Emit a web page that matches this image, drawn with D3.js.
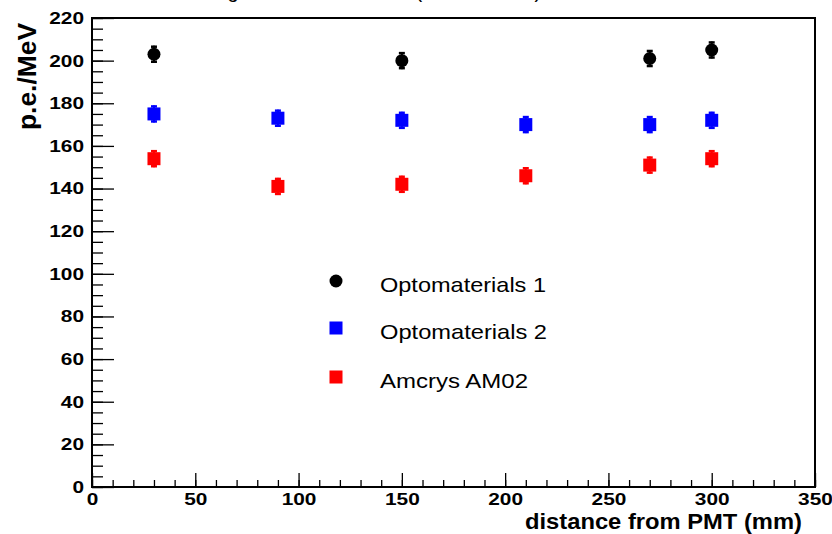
<!DOCTYPE html>
<html lang="en">
<head>
<meta charset="UTF-8">
<script src="https://d3js.org/d3.v7.min.js"></script>
<style>
  body { margin: 0; background: #fff; }
  svg { display: block; font-family: "Liberation Sans", Arial, sans-serif; }
</style>
</head>
<body>
<svg width="832" height="534" id="chart"></svg>
<script>
// data
const xTicks = [0, 50, 100, 150, 200, 250, 300, 350];
const yTicks = [0, 20, 40, 60, 80, 100, 120, 140, 160, 180, 200, 220];

const opto1X = [30, 150, 270, 300];
const opto1Y = [203, 200, 201, 205];
const opto1Err = [4, 4, 4, 4];

const opto2X = [30, 90, 150, 210, 270, 300];
const opto2Y = [175, 173, 172, 170, 170, 172];
const opto2Err = [4, 4, 4, 4, 4, 4];

const amX = [30, 90, 150, 210, 270, 300];
const amY = [154, 141, 142, 146, 151, 154];
const amErr = [4, 4, 4, 4, 4, 4];

const seriesNames = ["Optomaterials 1", "Optomaterials 2", "Amcrys AM02"];
const seriesColors = ["#000000", "#0000ff", "#ff0000"];
const seriesShapes = ["circle", "square", "square"];

let svg = d3.select("#chart");

const padL = 92, padR = 815, padT = 18, padB = 487;

let x = d3.scaleLinear().domain([0, 350]).range([padL, padR]);
let y = d3.scaleLinear().domain([0, 220]).range([padB, padT]);

// title (mostly clipped off the top of the picture)
svg.append("text")
  .attr("x", 212).attr("y", -2)
  .attr("font-size", 20)
  .text("Light Yield vs distance (Cs-137 scan)");

// minor ticks
svg.append("g")
  .attr("transform", "translate(0," + padB + ")")
  .call(d3.axisBottom(x).ticks(35).tickSize(-7).tickSizeOuter(0).tickFormat(""))
  .call(g => g.select(".domain").remove())
  .selectAll("line").attr("stroke", "#000").attr("stroke-width", 1.3);

svg.append("g")
  .attr("transform", "translate(" + padL + ",0)")
  .call(d3.axisLeft(y).ticks(44).tickSize(-11).tickSizeOuter(0).tickFormat(""))
  .call(g => g.select(".domain").remove())
  .selectAll("line").attr("stroke", "#000").attr("stroke-width", 1.3);

// major ticks + labels
let xAxis = svg.append("g")
  .attr("transform", "translate(0," + padB + ")")
  .call(d3.axisBottom(x).tickValues(xTicks).tickSize(-14).tickSizeOuter(0).tickPadding(6));
xAxis.select(".domain").remove();
xAxis.selectAll("line").attr("stroke", "#000").attr("stroke-width", 1.3);
xAxis.selectAll("text")
  .attr("font-family", "Liberation Sans, Arial, sans-serif")
  .attr("font-size", 17).attr("font-weight", "bold").attr("fill", "#000")
  .attr("textLength", d => String(d).length * 11.6)
  .attr("lengthAdjust", "spacingAndGlyphs");

let yAxis = svg.append("g")
  .attr("transform", "translate(" + padL + ",0)")
  .call(d3.axisLeft(y).tickValues(yTicks).tickSize(-22).tickSizeOuter(0).tickPadding(8));
yAxis.select(".domain").remove();
yAxis.selectAll("line").attr("stroke", "#000").attr("stroke-width", 1.3);
yAxis.selectAll("text")
  .attr("font-family", "Liberation Sans, Arial, sans-serif")
  .attr("font-size", 17).attr("font-weight", "bold").attr("fill", "#000")
  .attr("textLength", d => String(d).length * 11.6)
  .attr("lengthAdjust", "spacingAndGlyphs");

// frame
svg.append("rect")
  .attr("x", padL).attr("y", padT)
  .attr("width", padR - padL).attr("height", padB - padT)
  .attr("fill", "none").attr("stroke", "#000").attr("stroke-width", 2);

// axis titles
svg.append("text")
  .attr("x", 802).attr("y", 529)
  .attr("text-anchor", "end")
  .attr("font-size", 22).attr("font-weight", "bold")
  .attr("textLength", 277).attr("lengthAdjust", "spacingAndGlyphs")
  .text("distance from PMT (mm)");

svg.append("text")
  .attr("transform", "translate(36,23) rotate(-90)")
  .attr("text-anchor", "end")
  .attr("font-size", 25).attr("font-weight", "bold")
  .attr("textLength", 107).attr("lengthAdjust", "spacingAndGlyphs")
  .text("p.e./MeV");

// points with error bars
function drawMarker(g, cx, cy, shape, color) {
  if (shape == "circle") {
    g.append("circle").attr("cx", cx).attr("cy", cy).attr("r", 6.5).attr("fill", color);
  } else {
    g.append("rect").attr("x", cx - 6.5).attr("y", cy - 6.5)
      .attr("width", 13).attr("height", 13).attr("fill", color);
  }
}

function drawSeries(xs, ys, errs, shape, color) {
  let g = svg.append("g");
  for (let i = 0; i < xs.length; i++) {
    let cx = x(xs[i]);
    let y1 = y(ys[i] + errs[i]), y2 = y(ys[i] - errs[i]);
    g.append("line").attr("x1", cx).attr("x2", cx).attr("y1", y1).attr("y2", y2)
      .attr("stroke", color).attr("stroke-width", 2);
    g.append("line").attr("x1", cx - 3).attr("x2", cx + 3).attr("y1", y1 + 1).attr("y2", y1 + 1)
      .attr("stroke", color).attr("stroke-width", 2.5);
    g.append("line").attr("x1", cx - 3).attr("x2", cx + 3).attr("y1", y2 - 1).attr("y2", y2 - 1)
      .attr("stroke", color).attr("stroke-width", 2.5);
    drawMarker(g, cx, y(ys[i]), shape, color);
  }
}

drawSeries(opto1X, opto1Y, opto1Err, seriesShapes[0], seriesColors[0]);
drawSeries(opto2X, opto2Y, opto2Err, seriesShapes[1], seriesColors[1]);
drawSeries(amX, amY, amErr, seriesShapes[2], seriesColors[2]);

// legend
const legendRows = [281, 328, 377];
const legendWidths = [166, 167, 148];
for (let i = 0; i < seriesNames.length; i++) {
  let g = svg.append("g");
  drawMarker(g, 336, legendRows[i], seriesShapes[i], seriesColors[i]);
  g.append("text")
    .attr("x", 380).attr("y", legendRows[i] + 11)
    .attr("font-size", 21)
    .attr("textLength", legendWidths[i]).attr("lengthAdjust", "spacingAndGlyphs")
    .text(seriesNames[i]);
}
</script>
</body>
</html>
